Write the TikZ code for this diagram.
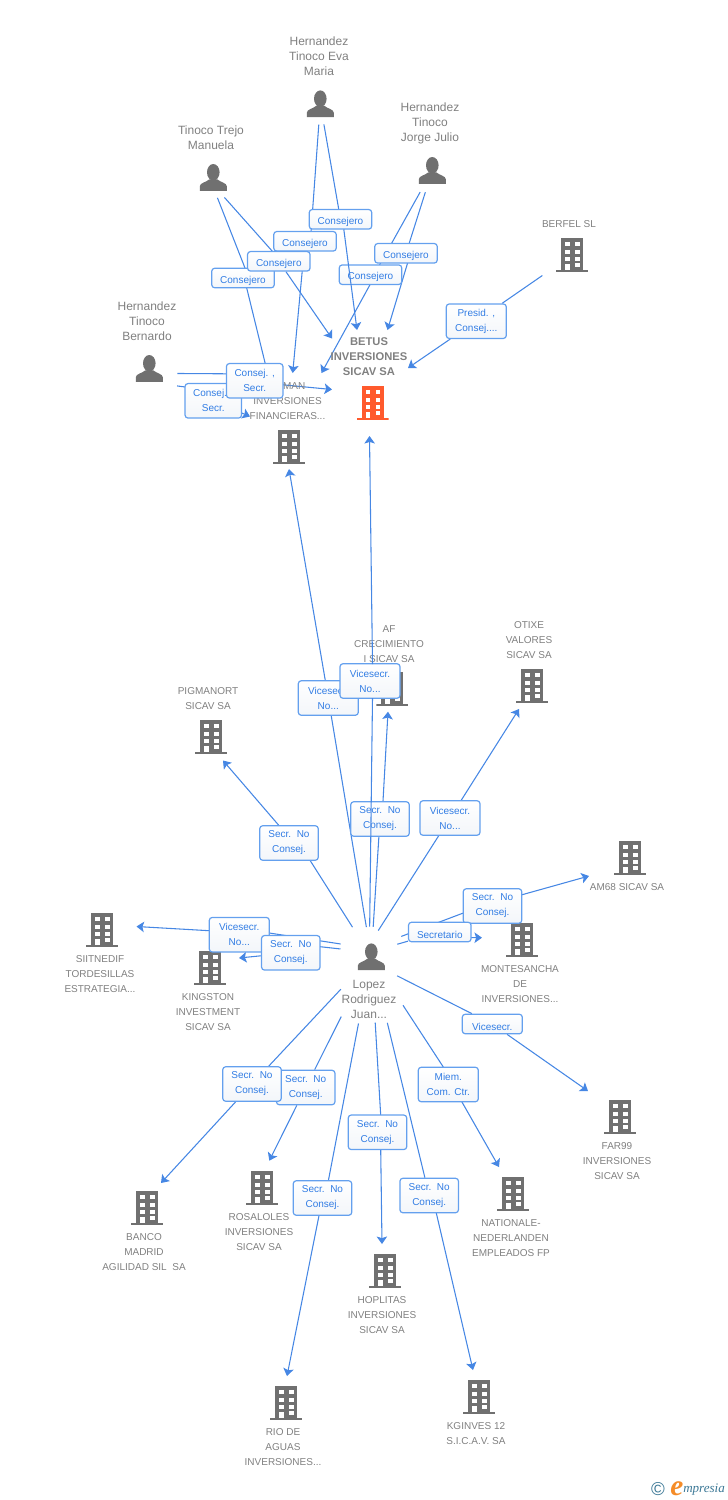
\documentclass[tikz,border=0pt]{standalone}
\usepackage{fontspec}
\setmainfont{Liberation Sans}
\newfontfamily\logofont{Liberation Serif}
\usetikzlibrary{arrows.meta,backgrounds}

\definecolor{icongrey}{RGB}{112,112,112}
\definecolor{iconhot}{RGB}{255,90,45}
\definecolor{namegrey}{RGB}{128,128,128}
\definecolor{wireblue}{RGB}{70,135,228}
\definecolor{labtext}{RGB}{50,125,228}
\definecolor{labline}{RGB}{100,160,238}
\definecolor{labfade}{RGB}{243,246,250}
\definecolor{logoteal}{RGB}{60,120,150}
\definecolor{logoorange}{RGB}{245,140,40}

\newcommand{\bldicon}[1]{%
  \begin{scope}[shift={(path picture bounding box.center)}]
    \fill[#1] (-11,-17) rectangle (11,15);
    \fill[#1] (-16,15) rectangle (16,17);
    \foreach \y in {-13,-5,2} {
      \fill[white] (-7,\y) rectangle (-2.5,\y+4);
      \fill[white] (3,\y) rectangle (7.5,\y+4);
    }
    \fill[white] (3,8) rectangle (7.5,12);
    \fill[white] (-7,9) rectangle (-2.5,15);
  \end{scope}}
\newcommand{\pericon}{%
  \begin{scope}[shift={(path picture bounding box.center)}]
    \fill[icongrey] (0,-5) ellipse [x radius=6.3,y radius=8.3];
    \fill[icongrey] (-13.5,13.5) -- (-13.5,9) .. controls (-13.5,5.5) and (-7,5) .. (-4,2)
      -- (4,2) .. controls (7,5) and (13.5,5.5) .. (13.5,9) -- (13.5,13.5) -- cycle;
  \end{scope}}

\tikzset{
  bld/.style={inner sep=0pt,minimum width=32*.75pt,minimum height=34*.75pt,
    path picture={\bldicon{#1}}},
  bld/.default=icongrey,
  per/.style={inner sep=0pt,minimum size=27*.75pt,path picture={\pericon}},
  nm/.style={align=center,text=namegrey,inner sep=0pt,font=\fontsize{7.5}{11.25}\selectfont},
  nmp/.style={nm,font=\fontsize{9}{11.25}\selectfont},
  lab/.style={align=center,text=labtext,draw=labline,line width=.9pt,rounded corners=2.2pt,
    top color=white,bottom color=labfade,inner sep=0pt,
    font=\fontsize{7.5}{11.25}\selectfont,minimum width=58.5*.75pt,minimum height=34.5*.75pt,
    execute at begin node={\rule{0pt}{9.4pt}}},
  labv/.style={lab,minimum width=60*.75pt},
  labo/.style={lab,minimum width=62.5*.75pt,minimum height=19.5*.75pt,
    execute at begin node={\rule{0pt}{7.8pt}}},
  wire/.style={draw=wireblue,line width=.8pt},
  wirea/.style={wire,-{Stealth[length=7.5*.75pt,width=10.5*.75pt,inset=1.6*.75pt]}},
  gapfrom/.style={shorten <=#1*.75pt}
}

\begin{document}
\begin{tikzpicture}[x=.75pt,y=-.75pt]
  \useasboundingbox (0,0) rectangle (728,1500);

  % draw people
  \node[per] (eva) at (320.3,103.7) {};
  \node[per] (trejo) at (213.3,177.3) {};
  \node[per] (jorge) at (432.3,170.3) {};
  \node[per] (bernardo) at (149.3,368.3) {};
  \node[per] (lopez) at (371.3,956.7) {};

  \node[nmp] (tEva) at (319,56) {Hernandez\\Tinoco Eva\\Maria};
  \node[nmp] (tTrejo) at (211,137.5) {Tinoco Trejo\\Manuela};
  \node[nmp] (tJorge) at (430,123) {Hernandez\\Tinoco\\Jorge Julio};
  \node[nmp] (tBernardo) at (147,321) {Hernandez\\Tinoco\\Bernardo};
  \node[nmp] (tLopez) at (369,999) {Lopez\\Rodriguez\\Juan...};

  % draw buildings
  \node[bld=iconhot] (betus) at (372.5,403) {};
  \node[bld] (man) at (289,447) {};
  \node[bld] (berfel) at (572,255) {};
  \node[bld] (af) at (392.3,688.7) {};
  \node[bld] (otixe) at (532,686) {};
  \node[bld] (pigmanort) at (211,737) {};
  \node[bld] (am68) at (630,858) {};
  \node[bld] (siitnedif) at (102,930) {};
  \node[bld] (kingston) at (210,968) {};
  \node[bld] (montesancha) at (522,940) {};
  \node[bld] (far99) at (620,1117) {};
  \node[bld] (nationale) at (513,1194) {};
  \node[bld] (banco) at (147,1208) {};
  \node[bld] (rosaloles) at (262,1188) {};
  \node[bld] (hoplitas) at (385,1271) {};
  \node[bld] (rio) at (286,1403) {};
  \node[bld] (kginves) at (479,1397) {};

  \node[nm,font=\fontsize{8.4}{11.25}\selectfont\bfseries] (tBetus) at (369,357) {BETUS\\INVERSIONES\\SICAV SA};
  \node[nm] (tMan) at (287.5,401) {\phantom{EE}MAN\\INVERSIONES\\FINANCIERAS...};
  \node[nm] (tBerfel) at (569,224) {BERFEL SL};
  \node[nm] (tAf) at (389,644) {AF\\CRECIMIENTO\\I SICAV SA};
  \node[nm] (tOtixe) at (529,640) {OTIXE\\VALORES\\SICAV SA};
  \node[nm] (tPigmanort) at (208,698.5) {PIGMANORT\\SICAV SA};
  \node[nm] (tAm68) at (627,887) {AM68 SICAV SA};
  \node[nm] (tSiitnedif) at (100,974) {SIITNEDIF\\TORDESILLAS\\ESTRATEGIA...};
  \node[nm] (tKingston) at (208,1012) {KINGSTON\\INVESTMENT\\SICAV SA};
  \node[nm] (tMontesancha) at (520,984) {MONTESANCHA\\DE\\INVERSIONES...};
  \node[nm] (tFar99) at (617,1161) {FAR99\\INVERSIONES\\SICAV SA};
  \node[nm] (tNationale) at (511,1238) {NATIONALE-\\NEDERLANDEN\\EMPLEADOS FP};
  \node[nm] (tBanco) at (144,1252) {BANCO\\MADRID\\AGILIDAD SIL~ SA};
  \node[nm] (tRosaloles) at (259,1232) {ROSALOLES\\INVERSIONES\\SICAV SA};
  \node[nm] (tHoplitas) at (382,1315) {HOPLITAS\\INVERSIONES\\SICAV SA};
  \node[nm] (tRio) at (283,1447) {RIO DE\\AGUAS\\INVERSIONES...};
  \node[nm] (tKginves) at (476,1433.5) {KGINVES 12\\S.I.C.A.V. SA};

  % draw labels
  \node[labo] (cons1) at (340.5,219.3) {Consejero};
  \node[labo] (cons2) at (305,241.3) {Consejero};
  \node[labo] (cons4) at (243,278) {Consejero};
  \node[labo] (cons3) at (278.8,261.3) {Consejero};
  \node[labo] (cons5) at (406,253.3) {Consejero};
  \node[labo] (cons6) at (370.5,274.7) {Consejero};
  \node[labv] (presid) at (476.3,321.2) {Presid. ,\\Consej....};
  \node[lab,minimum width=56.5*.75pt] (consec2) at (213.3,400.8) {Consej. ,\\Secr.};
  \node[lab,minimum width=56.5*.75pt] (consec1) at (254.7,380.8) {Consej. ,\\Secr.};
  \node[labv] (viceMan) at (328.3,698) {Vicesecr.\\No...};
  \node[labv] (viceBetus) at (370,681) {Vicesecr.\\No...};
  \node[lab] (secAf) at (380,819) {Secr.\ \ No\\Consej.};
  \node[labv] (viceOtixe) at (450,818) {Vicesecr.\\No...};
  \node[lab] (secPig) at (289,843) {Secr.\ \ No\\Consej.};
  \node[lab] (secAm) at (492.5,906) {Secr.\ \ No\\Consej.};
  \node[labo] (secretario) at (439.8,932) {Secretario};
  \node[labv] (viceSii) at (239.3,934.7) {Vicesecr.\\No...};
  \node[lab] (secKing) at (290.8,952.8) {Secr.\ \ No\\Consej.};
  \node[labo,minimum width=60*.75pt] (viceFar) at (492.3,1024) {Vicesecr.};
  \node[lab] (secRos) at (305.7,1087.5) {Secr.\ \ No\\Consej.};
  \node[lab] (secBanco) at (252,1084) {Secr.\ \ No\\Consej.};
  \node[labv] (miem) at (448.3,1084.5) {Miem.\\Com. Ctr.};
  \node[lab] (secHop) at (377.5,1132.3) {Secr.\ \ No\\Consej.};
  \node[lab] (secRio) at (322.5,1198) {Secr.\ \ No\\Consej.};
  \node[lab] (secKg) at (429.2,1195.5) {Secr.\ \ No\\Consej.};

  % draw connectors
  \begin{pgfonlayer}{background}
    \draw[wire,gapfrom=21] (eva.center) -- ([shift={(6,-9)}]cons2.center);
    \draw[wirea] (cons2) -- ([shift={(3.7,-74)}]man.center);
    \draw[wire,gapfrom=21] (eva.center) -- (cons1);

    \draw[wire,gapfrom=22] ([shift={(-3.9,0)}]trejo.center) -- ([shift={(2,-10)}]cons4.center);
    \draw[wirea] ([shift={(3.7,10)}]cons4.center) -- ([shift={(-18.5,-62)}]man.center);
    \draw[wire,gapfrom=27] ([shift={(-6.8,0)}]trejo.center) -- ([shift={(-5.8,-9.3)}]cons3.center);
    \draw[wirea] (cons3) -- ([shift={(-40.5,-64.5)}]betus.center);

    \draw[wire,gapfrom=25] (jorge.center) -- ([shift={(9,-9.7)}]cons6.center);
    \draw[wirea] ([shift={(5,0)}]cons6.center) -- ([shift={(-51,-30)}]betus.center);
    \draw[wire,gapfrom=23] (jorge.center) -- (cons5);
    \draw[wirea] ([shift={(4.5,0)}]cons5.center) -- ([shift={(15,-73)}]betus.center);

    \draw[wire,gapfrom=28] ([shift={(0,5)}]bernardo.center) -- ([shift={(-28,-7)}]consec1.center);
    \draw[wirea] ([shift={(28,4)}]consec1.center) -- ([shift={(-40.5,-13.5)}]betus.center);
    \draw[wire,gapfrom=28] ([shift={(0,14)}]bernardo.center) -- ([shift={(-28,-13.8)}]consec2.center);
    \draw[wirea] ([shift={(28,12)}]consec2.center) -- ([shift={(-39,-30.5)}]man.center);

    \draw[wire,gapfrom=36] (berfel.center) -- (presid);
    \draw[wirea] (presid) -- ([shift={(35.5,-35)}]betus.center);

    \draw[wire,gapfrom=35] (lopez.center) -- ([shift={(10,0)}]secPig.center);
    \draw[wirea] ([shift={(5,0)}]secPig.center) -- ([shift={(12,23.5)}]pigmanort.center);
    \draw[wire,gapfrom=30] (lopez.center) -- (viceMan);
    \draw[wirea] (viceMan) -- ([shift={(0,22)}]man.center);
    \draw[wire,gapfrom=30] (lopez.center) -- (secAf);
    \draw[wirea] ([shift={(2,0)}]secAf.center) -- ([shift={(-4.3,23)}]af.center);
    \draw[wire,gapfrom=31] ([shift={(-9.7,0)}]lopez.center) -- (viceOtixe);
    \draw[wirea] (viceOtixe) -- ([shift={(-13,23)}]otixe.center);

    \draw[wire,gapfrom=32] ([shift={(0,-9)}]lopez.center) -- ([shift={(0,-4)}]secAm.center);
    \draw[wirea] ([shift={(0,-3)}]secAm.center) -- ([shift={(-41,18)}]am68.center);
    \draw[wire,gapfrom=27] ([shift={(0,-5)}]lopez.center) -- (secretario);
    \draw[wirea] ([shift={(0,5.7)}]secretario.center) -- ([shift={(-40,-2.3)}]montesancha.center);
    \draw[wire,gapfrom=29] ([shift={(0,6)}]lopez.center) -- (viceFar);
    \draw[wirea] (viceFar) -- ([shift={(-32,-26)}]far99.center);

    \draw[wire,gapfrom=31] ([shift={(0,-8)}]lopez.center) -- ([shift={(30,-1.7)}]viceSii.center);
    \draw[wirea] ([shift={(-30,-4)}]viceSii.center) -- ([shift={(34.5,-3.5)}]siitnedif.center);
    \draw[wire,gapfrom=31] ([shift={(0,-4.3)}]lopez.center) -- ([shift={(9.7,-8.3)}]secKing.center);
    \draw[wirea] (secKing) -- ([shift={(29,-10)}]kingston.center);

    \draw[wire,gapfrom=44.5] (lopez.center) -- (secBanco);
    \draw[wirea] (secBanco) -- ([shift={(14,-25)}]banco.center);
    \draw[wire,gapfrom=67] (lopez.center) -- (secRos);
    \draw[wirea] (secRos) -- ([shift={(7.3,-27.3)}]rosaloles.center);
    \draw[wire,gapfrom=68] (lopez.center) -- ([shift={(5.8,-17)}]secRio.center);
    \draw[wirea] (secRio) -- ([shift={(1,-27)}]rio.center);
    \draw[wire,gapfrom=66] (lopez.center) -- ([shift={(3.2,-17)}]secHop.center);
    \draw[wirea] ([shift={(3.2,17)}]secHop.center) -- ([shift={(-3,-27)}]hoplitas.center);
    \draw[wire,gapfrom=68] (lopez.center) -- (secKg);
    \draw[wirea] ([shift={(3,0)}]secKg.center) -- ([shift={(-6,-27)}]kginves.center);
    \draw[wire,gapfrom=58] (lopez.center) -- ([shift={(-5,-17.5)}]miem.center);
    \draw[wirea] ([shift={(3.7,0)}]miem.center) -- ([shift={(-14,-27)}]nationale.center);
  \end{pgfonlayer}

  % these two run over a label on their way
  \draw[wirea] ([shift={(3.3,10)}]cons1.center) -- ([shift={(-15.5,-73)}]betus.center);
  \draw[wire,gapfrom=30] ([shift={(-2,0)}]lopez.center) -- ([shift={(2.5,17)}]viceBetus.center);
  \draw[wirea] ([shift={(2.5,-17)}]viceBetus.center) -- ([shift={(-3,33)}]betus.center);

  % draw logo
  \node[inner sep=0pt,text=logoteal,font=\fontsize{14}{15}\selectfont] (logoC) at (658,1489) {\textcopyright};
  \node[inner sep=0pt,text=logoorange,font=\logofont\itshape\bfseries\fontsize{22}{24}\selectfont] (logoE) at (677,1489) {e};
  \node[inner sep=0pt,anchor=west,text=logoteal,font=\logofont\itshape\fontsize{9.8}{11}\selectfont] (logoM) at (683,1490) {mpresia};
\end{tikzpicture}
\end{document}
